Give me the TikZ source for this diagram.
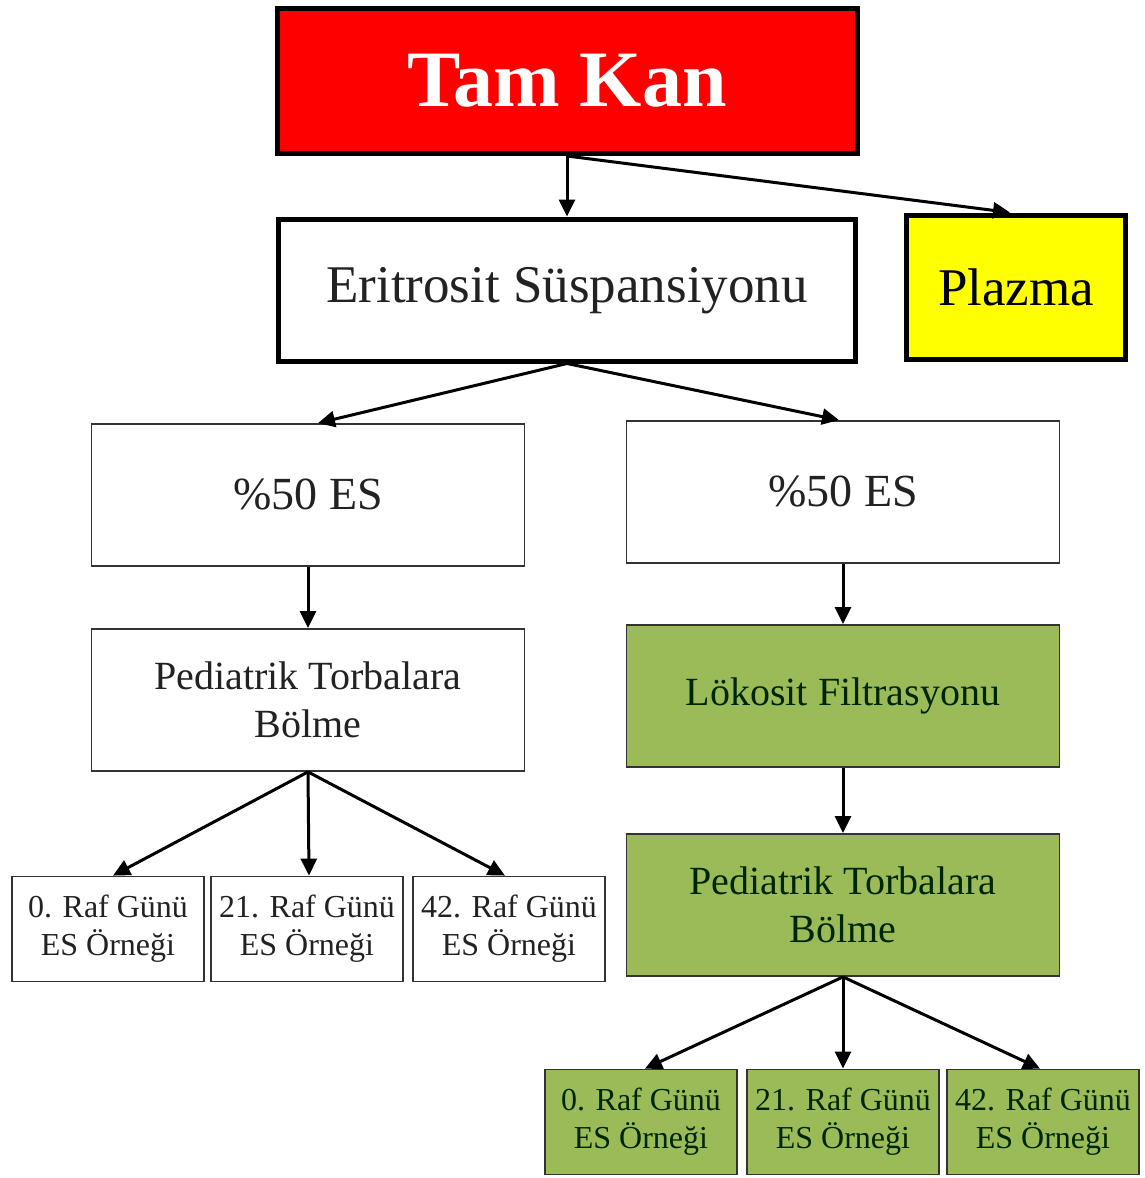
\documentclass[tikz,border=0pt]{standalone}
\usepackage{fontspec}
\setmainfont{Liberation Serif}
\usetikzlibrary{arrows.meta}
\definecolor{kgreen}{HTML}{9BBB59}
\definecolor{kred}{HTML}{FF0000}
\definecolor{kyellow}{HTML}{FFFF00}
\definecolor{ktext}{HTML}{222222}
\begin{document}
\begin{tikzpicture}[x=1pt,y=-1pt,
  bx/.style={draw=black!80, line width=1.8pt, rectangle, inner sep=0pt, align=center, text=ktext},
  heavy/.style={draw=black, line width=5pt},
  bigbox/.style={bx, minimum width=433pt, minimum height=142pt, font=\fontsize{40}{48}\selectfont},
  smallbox/.style={bx, minimum width=192pt, minimum height=105pt, font=\fontsize{32}{38}\selectfont},
  grn/.style={fill=kgreen, text=black!85!green},
  arr/.style={line width=3pt, -{Triangle[length=17pt,width=16pt]}}]
\useasboundingbox (0,0) rectangle (1145,1178);
\fill[white] (0,0) rectangle (1145,1178);

\node[bx, heavy, fill=kred, text=white, minimum width=580pt, minimum height=145pt,
  font=\fontsize{80}{90}\bfseries\selectfont] (tam) at (567,81) {Tam Kan};
\node[bx, heavy, fill=white, minimum width=577pt, minimum height=142pt,
  font=\fontsize{53}{60}\selectfont, text depth=10pt] (eri) at (567,290) {Eritrosit Süspansiyonu};
\node[bx, heavy, fill=kyellow, text=black, minimum width=219pt, minimum height=144pt,
  font=\fontsize{53}{60}\selectfont] (pla) at (1016,287) {Plazma};

\node[bigbox, font=\fontsize{46}{52}\selectfont] (l50) at (308,495) {\%50 ES};
\node[bigbox, font=\fontsize{46}{52}\selectfont] (r50) at (843,492) {\%50 ES};

\node[bigbox] (lped) at (308,700) {Pediatrik Torbalara\\Bölme};
\node[bigbox, grn] (lok) at (843,696) {Lökosit Filtrasyonu};
\node[bigbox, grn] (rped) at (843,905) {Pediatrik Torbalara\\Bölme};

\node[smallbox] (l0) at (108,929) {0. Raf Günü\\ES Örneği};
\node[smallbox] (l21) at (307,929) {21. Raf Günü\\ES Örneği};
\node[smallbox] (l42) at (509,929) {42. Raf Günü\\ES Örneği};

\node[smallbox, grn] (r0) at (641,1122) {0. Raf Günü\\ES Örneği};
\node[smallbox, grn] (r21) at (843,1122) {21. Raf Günü\\ES Örneği};
\node[smallbox, grn] (r42) at (1043,1122) {42. Raf Günü\\ES Örneği};

\draw[arr] (tam.south) -- (eri.north);
\draw[arr] (tam.south) -- ([xshift=-6pt]pla.north);
\draw[arr] (eri.south) -- ([xshift=10pt]l50.north);
\draw[arr] (eri.south) -- ([xshift=-4pt]r50.north);
\draw[arr] (l50.south) -- (lped.north);
\draw[arr] (r50.south) -- (lok.north);
\draw[arr] (lok.south) -- (rped.north);
\draw[arr] (lped.south) -- ([xshift=5pt]l0.north);
\draw[arr] (lped.south) -- ([xshift=2pt]l21.north);
\draw[arr] (lped.south) -- ([xshift=-4pt]l42.north);
\draw[arr] (rped.south) -- ([xshift=4pt]r0.north);
\draw[arr] (rped.south) -- (r21.north);
\draw[arr] (rped.south) -- ([xshift=-3pt]r42.north);
\end{tikzpicture}
\end{document}
